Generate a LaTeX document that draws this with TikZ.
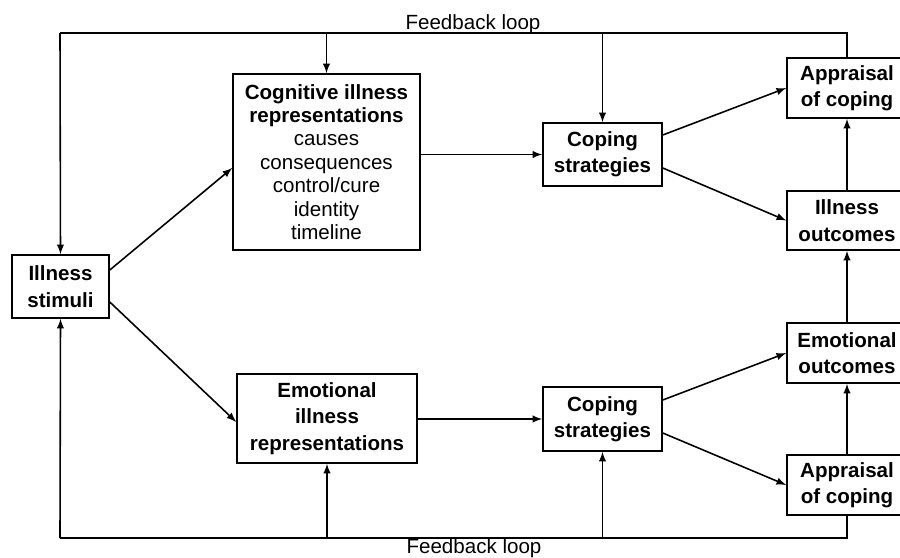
\documentclass[tikz,border=0pt]{standalone}
\usepackage{fontspec}
\setmainfont{Liberation Sans}
\usepackage{tikz}
\usetikzlibrary{arrows,positioning,calc}
\newcommand{\fbtext}{Feedback loop}

\begin{document}
\begin{tikzpicture}[x=0.02cm, y=-0.02cm,
  box/.style={draw, line width=0.9pt, align=center, inner sep=0pt,
    font=\fontsize{11.7}{15}\selectfont\bfseries},
  link/.style={line width=0.9pt, -latex},
  loopline/.style={line width=0.9pt}]

\useasboundingbox (0,0) rectangle (900,558);

% LEFT: illness stimuli
\node[box, minimum width=1.94cm, minimum height=1.26cm] (stim) at (60.5,286.5) {Illness\\stimuli};

% MIDDLE: representations
\node[box, minimum width=3.74cm, minimum height=3.52cm,
  font=\fontsize{11.7}{13.3}\selectfont] (cog) at (326.5,162)
  {\textbf{Cognitive illness}\\\textbf{representations}\\causes\\consequences\\control/cure\\identity\\timeline};
\node[box, minimum width=3.6cm, minimum height=1.78cm] (emo) at (327,418.5)
  {Emotional\\illness\\representations};

% Coping strategies
\node[box, minimum width=2.38cm, minimum height=1.26cm] (cop1) at (602.5,154.5) {Coping\\strategies};
\node[box, minimum width=2.38cm, minimum height=1.28cm] (cop2) at (602.5,419) {Coping\\strategies};

% RIGHT: outcomes and appraisal (cut by the page edge)
\node[box, minimum width=2.4cm, minimum height=1.2cm] (app1) at (847,88) {Appraisal\\of coping};
\node[box, minimum width=2.4cm, minimum height=1.18cm] (illout) at (847,220.5) {Illness\\outcomes};
\node[box, minimum width=2.4cm, minimum height=1.2cm] (emoout) at (847,353) {Emotional\\outcomes};
\node[box, minimum width=2.4cm, minimum height=1.2cm] (app2) at (847,485) {Appraisal\\of coping};

% Forward arrows
\draw[link] ([yshift=0.33cm]stim.east) -- ([yshift=-0.12cm]cog.west);
\draw[link] ([yshift=-0.31cm]stim.east) -- ([yshift=-0.07cm]emo.west);
\draw[link] (cop1.west -| cog.east) -- (cop1.west);
\draw[link] (cop2.west -| emo.east) -- (cop2.west);
\draw[link] ([yshift=0.39cm]cop1.east) -- (app1.west);
\draw[link] ([yshift=-0.27cm]cop1.east) -- (illout.west);
\draw[link] ([yshift=0.38cm]cop2.east) -- (emoout.west);
\draw[link] ([yshift=-0.28cm]cop2.east) -- (app2.west);
\draw[link] (illout.north) -- (app1.south);
\draw[link] (emoout.north) -- (illout.south);
\draw[link] (app2.north) -- (emoout.south);

% Feedback loops (top and bottom)
\coordinate (tl) at (60,33);
\coordinate (tr) at (847,33);
\coordinate (bl) at (60,538);
\coordinate (br) at (847,538);
\draw[loopline] (app1.north) -- (tr) -- (tl);
\draw[link] (tl) -- (stim.north);
\draw[link] (cog.north |- tl) -- (cog.north);
\draw[link] (cop1.north |- tl) -- (cop1.north);
\draw[loopline] (app2.south) -- (br) -- (bl);
\draw[link] (bl) -- (stim.south);
\draw[link] (emo.south |- bl) -- (emo.south);
\draw[link] (cop2.south |- bl) -- (cop2.south);

% Labels
\node[anchor=base, font=\fontsize{11.7}{15}\selectfont] (fbtop) at (473,29) {\fbtext};
\node[anchor=base, font=\fontsize{11.7}{15}\selectfont] (fbbot) at (474,553) {\fbtext};

\end{tikzpicture}
\end{document}
